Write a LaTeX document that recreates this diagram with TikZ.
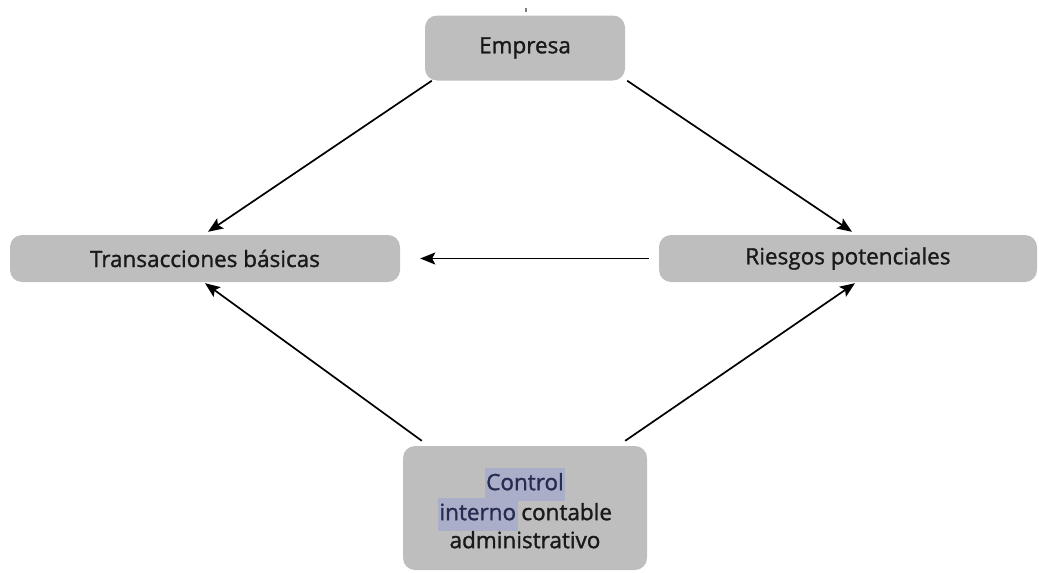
\documentclass[tikz,border=0pt]{standalone}
\usepackage{fontspec}
\setmainfont[FakeBold=1.3]{Open Sans}
\usetikzlibrary{arrows.meta}
\definecolor{boxgray}{RGB}{190,190,190}
\definecolor{txt}{RGB}{25,25,25}
\definecolor{hl}{RGB}{170,174,200}
\definecolor{hltxt}{RGB}{38,44,80}
\newcommand{\hlword}[1]{{\setlength{\fboxsep}{1.5pt}\colorbox{hl}{\textcolor{hltxt}{\strut #1}}}}
\tikzset{
  box/.style={draw=none, fill=boxgray, rounded corners=12pt, text=txt,
    font=\fontsize{22.5}{30}\selectfont, inner sep=0pt},
  arr/.style={-{Stealth[length=15pt,width=12pt,inset=3pt]}, line width=1.7pt, black},
}
\begin{document}
\begin{tikzpicture}[x=1pt,y=-1pt]
\useasboundingbox (0,0) rectangle (1039,573);
\node[box, minimum width=200pt, minimum height=65pt] (E) at (525,48) {Empresa};
\node[box, minimum width=390pt, minimum height=47pt] (T) at (205,258.5) {Transacciones básicas};
\node[box, minimum width=378pt, minimum height=47pt] (R) at (848,258.5) {Riesgos potenciales};
\node[box, minimum width=244pt, minimum height=124pt, align=center] (C) at (525,508)
  {\hlword{Control}\\[-4pt]\hlword{interno}\,contable\\[-2pt]administrativo};
% small tick above the top box
\coordinate (tk1) at (526,8);
\coordinate (tk2) at (526,12);
\draw[line width=1.2pt, gray] (tk1) -- (tk2);
% connectors
\draw[arr] ([xshift=7pt]E.south west) -- ([xshift=3pt,yshift=3pt]T.north);
\draw[arr] ([xshift=2pt]E.south east) -- ([xshift=4pt,yshift=3pt]R.north);
\draw[arr] ([xshift=-10pt]R.west) -- ([xshift=20pt]T.east);
\draw[arr] ([xshift=19pt,yshift=5pt]C.north west) -- ([yshift=-1pt]T.south);
\draw[arr] ([xshift=-22pt,yshift=5pt]C.north east) -- ([xshift=7pt,yshift=-1pt]R.south);
\end{tikzpicture}
\end{document}
